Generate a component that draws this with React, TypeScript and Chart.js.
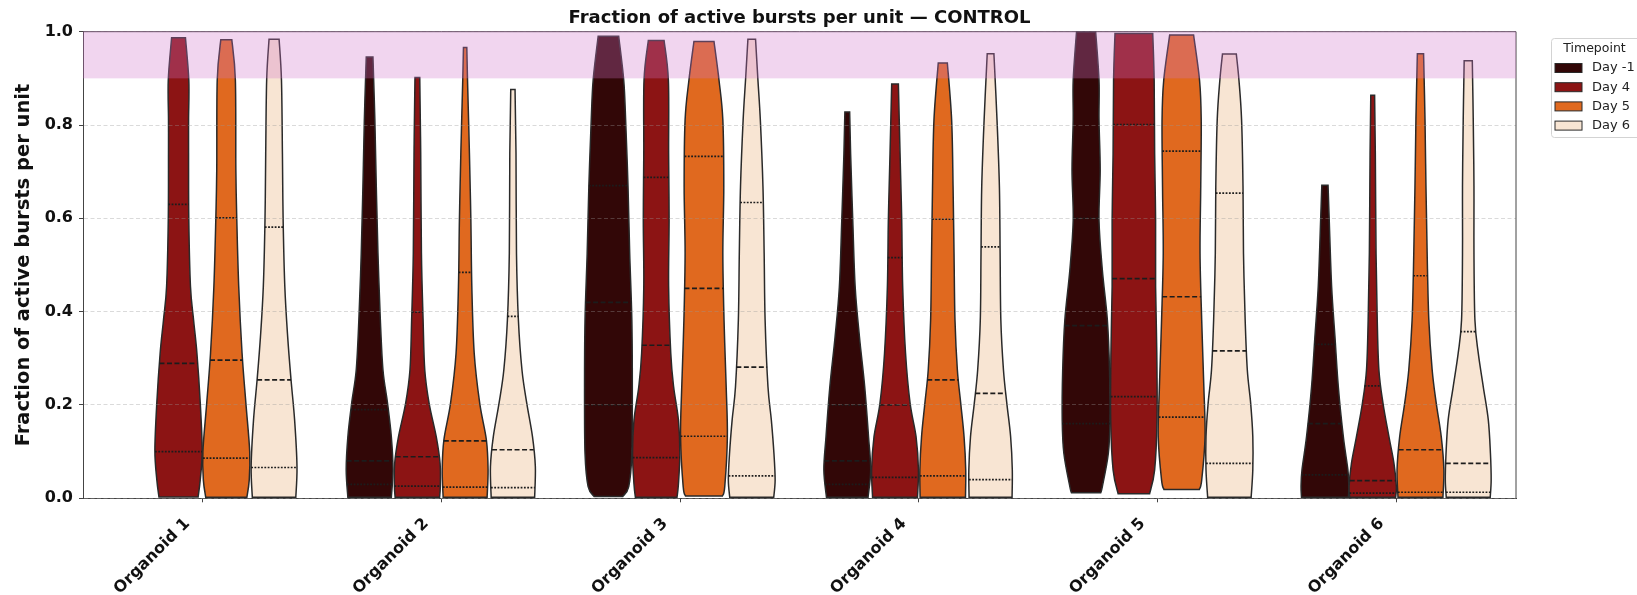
import React, { useEffect, useRef } from 'react';
import { Chart, registerables } from 'chart.js';

Chart.register(...registerables);

// ---------------- data ----------------
const categories = ['Organoid 1', 'Organoid 2', 'Organoid 3', 'Organoid 4', 'Organoid 5', 'Organoid 6'];
const timepoints = ['Day -1', 'Day 4', 'Day 5', 'Day 6'];
const yTicks = [0, 0.2, 0.4, 0.6, 0.8, 1.0];
const highlightBand = [0.9, 1.0];
const chartTitle = 'Fraction of active bursts per unit — CONTROL';
const yTitle = 'Fraction of active bursts per unit';
const legendTitle = 'Timepoint';

// violin outlines: [value, relative half-width] from bottom to top
type Profile = [number, number][] | null;

const dayM1Profiles: Profile[] = [
  null,
  [[0.002, 0.91], [0.061, 0.98], [0.132, 0.91], [0.204, 0.75], [0.275, 0.56], [0.382, 0.45], [0.525, 0.35], [0.668, 0.28], [0.811, 0.22], [0.946, 0.14]],
  [[0.004, 0.6], [0.025, 0.85], [0.096, 0.98], [0.239, 1.0], [0.382, 0.98], [0.525, 0.89], [0.668, 0.82], [0.811, 0.72], [0.896, 0.64], [0.99, 0.43]],
  [[0.002, 0.87], [0.061, 0.98], [0.132, 0.89], [0.239, 0.73], [0.346, 0.51], [0.454, 0.33], [0.596, 0.23], [0.739, 0.14], [0.828, 0.1]],
  [[0.012, 0.61], [0.025, 0.68], [0.096, 0.93], [0.168, 1.0], [0.275, 0.98], [0.382, 0.89], [0.489, 0.68], [0.596, 0.54], [0.704, 0.59], [0.811, 0.54], [0.896, 0.54], [1.0, 0.4]],
  [[0.002, 0.98], [0.025, 1.0], [0.061, 0.96], [0.132, 0.77], [0.239, 0.56], [0.346, 0.42], [0.454, 0.28], [0.596, 0.18], [0.671, 0.13]],
];

const day4Profiles: Profile[] = [
  [[0.003, 0.82], [0.04, 0.91], [0.103, 0.99], [0.204, 0.91], [0.311, 0.77], [0.382, 0.63], [0.454, 0.5], [0.596, 0.43], [0.739, 0.42], [0.811, 0.42], [0.896, 0.43], [0.987, 0.29]],
  [[0.002, 0.93], [0.025, 0.96], [0.075, 0.95], [0.132, 0.79], [0.204, 0.49], [0.275, 0.31], [0.382, 0.24], [0.525, 0.17], [0.739, 0.14], [0.902, 0.1]],
  [[0.002, 0.87], [0.03, 0.93], [0.096, 0.99], [0.168, 0.93], [0.239, 0.73], [0.311, 0.61], [0.454, 0.52], [0.596, 0.54], [0.739, 0.52], [0.896, 0.51], [0.981, 0.33]],
  [[0.002, 0.94], [0.061, 0.98], [0.132, 0.88], [0.204, 0.63], [0.311, 0.44], [0.454, 0.32], [0.596, 0.28], [0.739, 0.21], [0.888, 0.14]],
  [[0.01, 0.66], [0.061, 0.87], [0.168, 0.97], [0.311, 0.96], [0.454, 0.91], [0.596, 0.91], [0.739, 0.87], [0.896, 0.85], [0.996, 0.79]],
  [[0.002, 0.96], [0.025, 0.99], [0.075, 0.89], [0.132, 0.68], [0.204, 0.43], [0.275, 0.26], [0.382, 0.19], [0.525, 0.14], [0.739, 0.11], [0.864, 0.08]],
];

const day5Profiles: Profile[] = [
  [[0.002, 0.86], [0.039, 0.96], [0.1, 0.98], [0.204, 0.82], [0.311, 0.66], [0.454, 0.52], [0.596, 0.44], [0.704, 0.4], [0.896, 0.38], [0.983, 0.23]],
  [[0.002, 0.92], [0.061, 0.96], [0.125, 0.89], [0.204, 0.61], [0.311, 0.38], [0.454, 0.28], [0.596, 0.24], [0.739, 0.18], [0.896, 0.1], [0.966, 0.07]],
  [[0.005, 0.77], [0.025, 0.87], [0.132, 0.98], [0.239, 0.93], [0.382, 0.84], [0.525, 0.79], [0.668, 0.83], [0.811, 0.79], [0.896, 0.63], [0.979, 0.42]],
  [[0.002, 0.95], [0.061, 0.96], [0.132, 0.89], [0.204, 0.75], [0.275, 0.61], [0.382, 0.51], [0.525, 0.47], [0.668, 0.43], [0.811, 0.37], [0.933, 0.19]],
  [[0.019, 0.74], [0.039, 0.84], [0.132, 0.98], [0.239, 0.93], [0.382, 0.84], [0.525, 0.77], [0.668, 0.8], [0.811, 0.82], [0.896, 0.75], [0.993, 0.5]],
  [[0.002, 0.94], [0.061, 0.98], [0.132, 0.87], [0.204, 0.66], [0.275, 0.49], [0.382, 0.35], [0.525, 0.28], [0.668, 0.23], [0.811, 0.19], [0.953, 0.13]],
];

const day6Profiles: Profile[] = [
  [[0.002, 0.91], [0.068, 0.96], [0.168, 0.86], [0.254, 0.71], [0.346, 0.57], [0.454, 0.45], [0.596, 0.38], [0.739, 0.35], [0.896, 0.31], [0.984, 0.21]],
  [[0.002, 0.91], [0.068, 0.94], [0.132, 0.82], [0.204, 0.58], [0.275, 0.38], [0.382, 0.23], [0.525, 0.15], [0.739, 0.13], [0.876, 0.09]],
  [[0.002, 0.92], [0.039, 0.98], [0.096, 0.93], [0.168, 0.82], [0.239, 0.68], [0.382, 0.56], [0.525, 0.52], [0.668, 0.47], [0.811, 0.36], [0.896, 0.26], [0.984, 0.16]],
  [[0.002, 0.9], [0.061, 0.91], [0.132, 0.84], [0.204, 0.68], [0.275, 0.54], [0.382, 0.43], [0.525, 0.4], [0.668, 0.37], [0.811, 0.27], [0.953, 0.14]],
  [[0.002, 0.91], [0.061, 0.98], [0.132, 0.98], [0.204, 0.89], [0.275, 0.75], [0.382, 0.66], [0.525, 0.59], [0.668, 0.57], [0.811, 0.51], [0.896, 0.4], [0.952, 0.29]],
  [[0.002, 0.92], [0.039, 0.96], [0.096, 0.93], [0.168, 0.84], [0.239, 0.63], [0.311, 0.42], [0.382, 0.28], [0.525, 0.24], [0.668, 0.24], [0.811, 0.21], [0.938, 0.17]],
];

// quartiles [Q1, median, Q3]
const dayM1Quartiles: (number[] | null)[] = [null, [0.03, 0.08, 0.19], [0.2, 0.42, 0.67], [0.03, 0.08, 0.2], [0.16, 0.37, 0.6], [0.05, 0.16, 0.33]];
const day4Quartiles: (number[] | null)[] = [[0.1, 0.289, 0.63], [0.026, 0.089, 0.399], [0.087, 0.328, 0.688], [0.045, 0.2, 0.516], [0.218, 0.471, 0.801], [0.011, 0.038, 0.241]];
const day5Quartiles: (number[] | null)[] = [[0.086, 0.296, 0.601], [0.024, 0.123, 0.484], [0.133, 0.45, 0.733], [0.048, 0.254, 0.598], [0.174, 0.432, 0.744], [0.013, 0.104, 0.477]];
const day6Quartiles: (number[] | null)[] = [[0.066, 0.254, 0.581], [0.023, 0.104, 0.39], [0.048, 0.281, 0.634], [0.04, 0.225, 0.539], [0.075, 0.316, 0.654], [0.013, 0.075, 0.357]];

const allProfiles = [dayM1Profiles, day4Profiles, day5Profiles, day6Profiles];
const allQuartiles = [dayM1Quartiles, day4Quartiles, day5Quartiles, day6Quartiles];

// ---------------- styles ----------------
const timepointColors = ['#320707', '#8c1414', '#e0691f', '#f8e5d3'];
const edgeColor = '#2a2a2a';
const dodgeOffsets = [-0.3, -0.1, 0.1, 0.3];
const halfWidth = 0.1;
const bandColor = 'rgba(208,115,202,0.3)';
const FONT = "'DejaVu Sans', sans-serif";

function curveThrough(ctx: CanvasRenderingContext2D, pts: { x: number; y: number }[]) {
  const n = pts.length;
  for (let i = 0; i < n - 1; i++) {
    const p0 = pts[Math.max(i - 1, 0)];
    const p1 = pts[i];
    const p2 = pts[i + 1];
    const p3 = pts[Math.min(i + 2, n - 1)];
    const t = 1 / 6;
    ctx.bezierCurveTo(
      p1.x + (p2.x - p0.x) * t, p1.y + (p2.y - p0.y) * t,
      p2.x - (p3.x - p1.x) * t, p2.y - (p3.y - p1.y) * t,
      p2.x, p2.y
    );
  }
}

function widthAt(prof: [number, number][], v: number) {
  if (v <= prof[0][0]) return prof[0][1];
  for (let i = 0; i < prof.length - 1; i++) {
    const [v0, w0] = prof[i];
    const [v1, w1] = prof[i + 1];
    if (v >= v0 && v <= v1) return w0 + ((w1 - w0) * (v - v0)) / (v1 - v0);
  }
  return prof[prof.length - 1][1];
}

const violinPlugin = {
  id: 'violins',
  afterDatasetsDraw(chart: any) {
    const { ctx, chartArea, scales } = chart;
    const xs = scales.x;
    const ys = scales.y;
    ctx.save();
    ctx.beginPath();
    ctx.rect(chartArea.left, chartArea.top - 1, chartArea.right - chartArea.left, chartArea.bottom - chartArea.top + 1);
    ctx.clip();
    for (let g = 0; g < categories.length; g++) {
      for (let t = 0; t < timepoints.length; t++) {
        const prof = allProfiles[t][g];
        if (!prof) continue;
        const c = g + dodgeOffsets[t];
        const right = prof.map(([v, w]) => ({ x: xs.getPixelForValue(c + w * halfWidth), y: ys.getPixelForValue(v) }));
        const left = prof
          .map(([v, w]) => ({ x: xs.getPixelForValue(c - w * halfWidth), y: ys.getPixelForValue(v) }))
          .reverse();
        ctx.beginPath();
        ctx.moveTo(right[0].x, right[0].y);
        curveThrough(ctx, right);
        ctx.lineTo(left[0].x, left[0].y);
        curveThrough(ctx, left);
        ctx.closePath();
        ctx.fillStyle = timepointColors[t];
        ctx.fill();
        ctx.lineWidth = 1.5;
        ctx.strokeStyle = edgeColor;
        ctx.setLineDash([]);
        ctx.stroke();

        const q = allQuartiles[t][g];
        if (q) {
          q.forEach((v, k) => {
            const w = widthAt(prof, v) * halfWidth;
            const py = ys.getPixelForValue(v);
            ctx.beginPath();
            ctx.moveTo(xs.getPixelForValue(c - w), py);
            ctx.lineTo(xs.getPixelForValue(c + w), py);
            ctx.lineWidth = 1.7;
            ctx.strokeStyle = '#1c1c1c';
            ctx.setLineDash(k === 1 ? [5, 2.5] : [1.8, 1.5]);
            ctx.stroke();
          });
        }
      }
    }
    ctx.restore();
  },
};

const overlayPlugin = {
  id: 'overlay',
  afterDraw(chart: any) {
    const { ctx, chartArea, scales } = chart;
    const ys = scales.y;
    ctx.save();
    // top & right spines
    ctx.strokeStyle = '#444';
    ctx.lineWidth = 1;
    ctx.setLineDash([]);
    ctx.beginPath();
    ctx.moveTo(chartArea.left, chartArea.top);
    ctx.lineTo(chartArea.right, chartArea.top);
    ctx.lineTo(chartArea.right, chartArea.bottom);
    ctx.stroke();
    // highlight band
    const yTop = ys.getPixelForValue(highlightBand[1]);
    const yBot = ys.getPixelForValue(highlightBand[0]);
    ctx.fillStyle = bandColor;
    ctx.fillRect(chartArea.left, yTop - 0.5, chartArea.right - chartArea.left, yBot - yTop + 0.5);

    // title, centred over the plotting area
    ctx.fillStyle = '#111';
    ctx.font = `bold 18px ${FONT}`;
    ctx.textAlign = 'center';
    ctx.textBaseline = 'middle';
    ctx.fillText(chartTitle, (chartArea.left + chartArea.right) / 2, 18.5);

    // legend
    const lx = chartArea.right + 35.5;
    const ly = 38.5;
    ctx.beginPath();
    ctx.roundRect(lx, ly, 110, 99, 3);
    ctx.fillStyle = 'rgba(255,255,255,0.85)';
    ctx.fill();
    ctx.strokeStyle = '#d3d3d3';
    ctx.lineWidth = 1;
    ctx.stroke();
    ctx.fillStyle = '#222';
    ctx.font = `12.5px ${FONT}`;
    ctx.textAlign = 'center';
    ctx.textBaseline = 'middle';
    ctx.fillText(legendTitle, lx + 43, ly + 10);
    ctx.font = `13px ${FONT}`;
    timepoints.forEach((tp, i) => {
      const cy = ly + 29.5 + i * 19.2;
      ctx.fillStyle = timepointColors[i];
      ctx.fillRect(lx + 3.5, cy - 4.5, 27, 9);
      ctx.strokeStyle = edgeColor;
      ctx.lineWidth = 1;
      ctx.strokeRect(lx + 3.5, cy - 4.5, 27, 9);
      ctx.fillStyle = '#222';
      ctx.textAlign = 'left';
      ctx.fillText(tp, lx + 40.5, cy);
    });
    ctx.restore();
  },
};

export default function App() {
  const ref = useRef<HTMLCanvasElement>(null);
  useEffect(() => {
    Chart.defaults.font.family = FONT;
    Chart.defaults.color = '#111';
    const chart = new Chart(ref.current as HTMLCanvasElement, {
      type: 'line',
      data: {
        labels: categories,
        datasets: timepoints.map((tp, i) => ({
          label: tp,
          data: [],
          backgroundColor: timepointColors[i],
          borderColor: edgeColor,
        })),
      },
      options: {
        animation: false,
        responsive: true,
        maintainAspectRatio: false,
        layout: { padding: { left: 0, right: 121, top: 31.7, bottom: 0 } },
        plugins: {
          legend: { display: false },
          tooltip: { enabled: false },
          title: { display: false },
        },
        scales: {
          x: {
            type: 'category',
            offset: true,
            grid: { display: true, drawOnChartArea: false, offset: false, tickLength: 4, tickColor: '#444', tickWidth: 1, z: 1 },
            border: { display: true, color: '#444', width: 1, z: 1 },
            ticks: {
              font: { size: 16, weight: 'bold', family: FONT },
              color: '#111',
              minRotation: 45,
              maxRotation: 45,
              autoSkip: false,
              padding: 12,
              labelOffset: -15,
            },
            afterFit: (s: any) => {
              s.height = 96.7;
            },
          },
          y: {
            type: 'linear',
            min: 0,
            max: 1,
            afterBuildTicks: (s: any) => {
              s.ticks = yTicks.map((v) => ({ value: v }));
            },
            grid: {
              color: 'rgba(150,150,150,0.45)',
              lineWidth: 0.8,
              tickColor: '#444',
              tickLength: 4,
              tickWidth: 1,
              tickBorderDash: [],
              z: 1,
            },
            border: { display: true, color: '#444', width: 1, dash: [4, 2.5], z: 1 },
            ticks: {
              font: { size: 16, weight: 'bold', family: FONT },
              color: '#111',
              padding: 6,
              callback: (v: any) => Number(v).toFixed(1),
            },
            title: {
              display: true,
              text: yTitle,
              font: { size: 19.5, weight: 'bold', family: FONT },
              color: '#111',
              padding: { top: 12, bottom: 0 },
            },
            afterFit: (s: any) => {
              s.width = 83;
            },
          },
        },
      } as any,
      plugins: [violinPlugin, overlayPlugin],
    });
    return () => chart.destroy();
  }, []);
  return (
    <div style={{ position: 'absolute', left: 0, top: 0, width: 1637, height: 595 }}>
      <canvas ref={ref} />
    </div>
  );
}
